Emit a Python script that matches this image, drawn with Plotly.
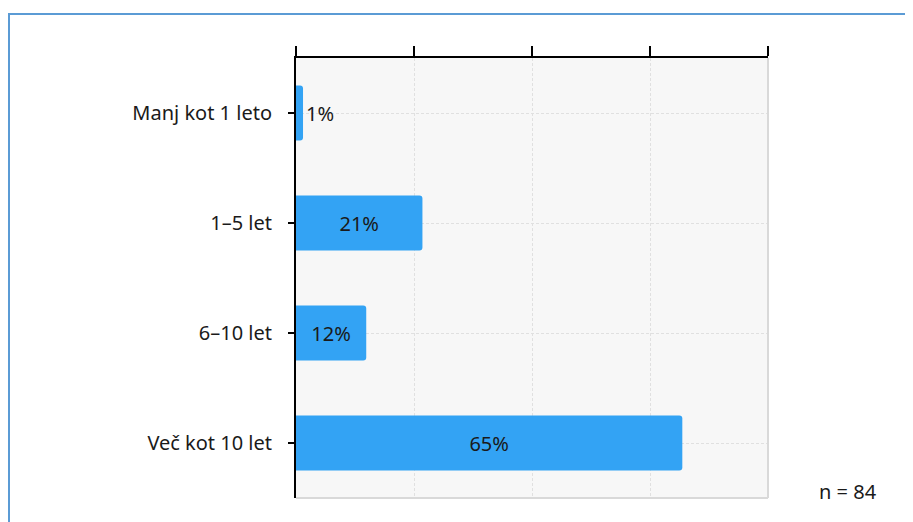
import plotly.graph_objects as go

categories = ["Manj kot 1 leto", "1–5 let", "6–10 let", "Več kot 10 let"]
counts = [1, 18, 10, 55]
n_total = 84
values = [c / n_total * 100 for c in counts]
labels = [f"{round(v)}%" for v in values]
positions = ["outside", "inside", "inside", "inside"]

FONT = "Noto Sans"
FS = 20

# page body has an 8px offset; target screen coords -> figure coords
OFF = 8
W, H = 913 - OFF, 522 - OFF
L, R, T, B = 296 - OFF, 768 - OFF, 58 - OFF, 498 - OFF
PW, PH = R - L, B - T


def px(x):
    return (x - OFF - L) / PW


def py(y):
    return (B - (y - OFF)) / PH


fig = go.Figure()
fig.add_trace(go.Bar(
    y=categories,
    x=values,
    orientation="h",
    marker=dict(color="#33a3f4", line=dict(width=0), cornerradius=3),
    width=0.5,
    text=labels,
    textposition=positions,
    insidetextanchor="middle",
    textfont=dict(family=FONT, size=FS, color="#1a1a1a"),
    outsidetextfont=dict(family=FONT, size=FS, color="#1a1a1a"),
    cliponaxis=False,
    hoverinfo="skip",
))

fig.update_layout(
    width=W, height=H,
    margin=dict(l=L, r=W - R, t=T, b=H - B, pad=0),
    paper_bgcolor="white",
    plot_bgcolor="#f7f7f7",
    showlegend=False,
    font=dict(family=FONT, size=FS, color="#1a1a1a"),
    xaxis=dict(
        range=[0, 80], dtick=20, side="top",
        showticklabels=False,
        ticks="outside", ticklen=10, tickwidth=2, tickcolor="black",
        showline=True, linecolor="black", linewidth=2,
        showgrid=True, gridcolor="#e0e0e0", griddash="3px,2px", gridwidth=1,
        zeroline=False, fixedrange=True,
    ),
    yaxis=dict(
        categoryorder="array", categoryarray=categories[::-1],
        ticks="outside", ticklen=6, tickwidth=2, tickcolor="black",
        ticklabelstandoff=12,
        showline=True, linecolor="black", linewidth=2,
        showgrid=True, gridcolor="#e0e0e0", griddash="3px,2px", gridwidth=1,
        tickfont=dict(family=FONT, size=FS, color="#1a1a1a"),
        fixedrange=True,
    ),
    shapes=[
        dict(type="line", xref="paper", yref="paper", x0=1, x1=1, y0=0, y1=1,
             line=dict(color="#d9d9d9", width=2)),
        dict(type="line", xref="paper", yref="paper", x0=0, x1=1, y0=0, y1=0,
             line=dict(color="#d9d9d9", width=2)),
        # outer blue frame (top and left edges visible)
        dict(type="line", xref="paper", yref="paper",
             x0=px(8), x1=px(913), y0=py(14), y1=py(14),
             line=dict(color="#5b9bd5", width=2), layer="below"),
        dict(type="line", xref="paper", yref="paper",
             x0=px(9), x1=px(9), y0=py(13), y1=py(522),
             line=dict(color="#5b9bd5", width=2), layer="below"),
    ],
    annotations=[
        dict(text=f"n = {n_total}", xref="paper", yref="paper",
             x=px(848), y=py(491),
             xanchor="center", yanchor="middle", showarrow=False,
             font=dict(family=FONT, size=FS, color="#1a1a1a")),
    ],
)

fig.write_html("out.html", config={"displayModeBar": False})
